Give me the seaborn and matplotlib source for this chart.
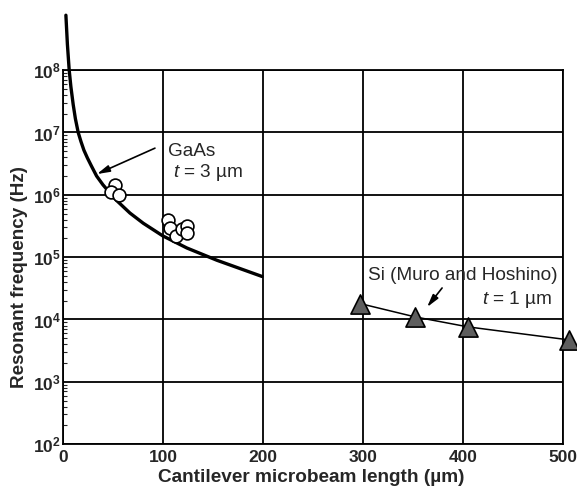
#!/usr/bin/env python3
# coding=utf-8

from matplotlib import pyplot as plt
from matplotlib.ticker import FixedLocator, FixedFormatter, LogLocator, NullFormatter
import seaborn as sns

# GaAs (t = 3 um) theoretical curve
gaas_curve_len = [3, 4.5, 6.3, 8.0, 10.3, 12.5, 15.3, 18, 21, 24.5, 28.5, 33.7, 40, 47,
                  53.7, 67, 80.3, 99.7, 124, 154, 199]
gaas_curve_freq = [7.6e8, 2.6e8, 1.0e8, 5.4e7, 2.8e7, 1.66e7, 1.0e7, 7.2e6, 5.2e6, 3.9e6,
                   2.9e6, 2.0e6, 1.45e6, 1.07e6, 8.1e5, 5.1e5, 3.5e5, 2.2e5, 1.4e5, 8.9e4,
                   4.9e4]

# GaAs measured points (open circles)
gaas_pts_len = [52, 47.7, 56.3, 105, 107, 113, 119, 124, 124]
gaas_pts_freq = [1.43e6, 1.12e6, 1.0e6, 3.9e5, 2.9e5, 2.2e5, 2.8e5, 3.2e5, 2.4e5]

# Si (Muro and Hoshino), t = 1 um (filled triangles)
si_len = [297, 352, 405, 506]
si_freq = [1.8e4, 1.1e4, 7.6e3, 4.7e3]

x_ticks = [0, 100, 200, 300, 400, 500]
y_ticks = [1e2, 1e3, 1e4, 1e5, 1e6, 1e7, 1e8]
y_labels = [r"$\mathrm{10^{%d}}$" % e for e in range(2, 9)]


def plot_frequency(fig_location: str = None):
    """
    Graf rezonancnej frekvencie konzoly v zavislosti od dlzky.
    """
    sns.set_style("white")
    plt.rcParams["font.family"] = ["Liberation Sans", "DejaVu Sans"]
    plt.rcParams["mathtext.fontset"] = "custom"
    plt.rcParams["mathtext.rm"] = "Liberation Sans:bold"
    plt.rcParams["mathtext.bf"] = "Liberation Sans:bold"
    plt.rcParams["mathtext.it"] = "Liberation Sans:italic"

    fig = plt.figure(figsize=(5.77, 4.87), dpi=100)
    ax = fig.add_axes([0.109, 0.088, 0.867, 0.768])
    ax.set_yscale("log")

    sns.lineplot(x=gaas_curve_len, y=gaas_curve_freq, sort=False, estimator=None,
                 color="black", lw=2.4, clip_on=False, zorder=3, ax=ax)
    sns.scatterplot(x=gaas_pts_len, y=gaas_pts_freq, marker="o", s=85, color="white",
                    edgecolor="black", linewidth=1.2, zorder=4, ax=ax)

    sns.lineplot(x=si_len, y=si_freq, sort=False, estimator=None,
                 color="black", lw=1.1, clip_on=False, zorder=3, ax=ax)
    sns.scatterplot(x=si_len, y=si_freq, marker="^", s=190, color="#5e5e5e",
                    edgecolor="black", linewidth=1.2, zorder=5, clip_on=False, ax=ax)

    ax.set_xlim(0, 500)
    ax.set_ylim(1e2, 1e8)

    ax.xaxis.set_major_locator(FixedLocator(x_ticks))
    ax.set_xticklabels([str(t) for t in x_ticks], fontsize=12.5, fontweight="bold")
    ax.yaxis.set_major_locator(FixedLocator(y_ticks))
    ax.yaxis.set_major_formatter(FixedFormatter(y_labels))
    ax.yaxis.set_minor_locator(LogLocator(base=10, subs=range(2, 10), numticks=20))
    ax.yaxis.set_minor_formatter(NullFormatter())

    ax.tick_params(axis="both", which="major", length=0, labelsize=12.5)
    ax.tick_params(axis="x", which="major", pad=4.5)
    ax.tick_params(axis="y", which="major", pad=1.5)
    ax.tick_params(axis="y", which="minor", left=True, direction="in", length=3, width=0.8)

    ax.grid(True, which="major", color="black", lw=1.3)
    for sp in ax.spines.values():
        sp.set_color("black")
        sp.set_linewidth(1.3)

    ax.set_xlabel("Cantilever microbeam length (\u00b5m)", fontsize=13.7, fontweight="bold")
    ax.set_ylabel("Resonant frequency (Hz)", fontsize=13.6, fontweight="bold")
    ax.xaxis.set_label_coords(0.496, -0.067)
    ax.yaxis.set_label_coords(-0.07, 0.447)

    # popisky
    ax.text(105, 4.2e6, "GaAs", fontsize=13.7, va="baseline")
    ax.text(110, 1.9e6, "$t$ = 3 \u00b5m", fontsize=13.7, va="baseline")
    ax.annotate("", xy=(34, 2.15e6), xytext=(92, 5.6e6),
                arrowprops=dict(arrowstyle="-|>,head_length=0.75,head_width=0.2",
                                color="black", lw=1.2, shrinkA=0, shrinkB=0))

    ax.text(305, 4.3e4, "Si (Muro and Hoshino)", fontsize=13.7, va="baseline")
    ax.text(489, 1.8e4, "$t$ = 1 \u00b5m", fontsize=13.7, va="baseline", ha="right")
    ax.annotate("", xy=(364, 1.58e4), xytext=(379, 3.2e4),
                arrowprops=dict(arrowstyle="-|>,head_length=0.75,head_width=0.2",
                                color="black", lw=1.2, shrinkA=0, shrinkB=0))

    if fig_location:
        fig.savefig(fig_location, dpi=100)

    plt.close(fig)


if __name__ == "__main__":
    plot_frequency("out.png")
